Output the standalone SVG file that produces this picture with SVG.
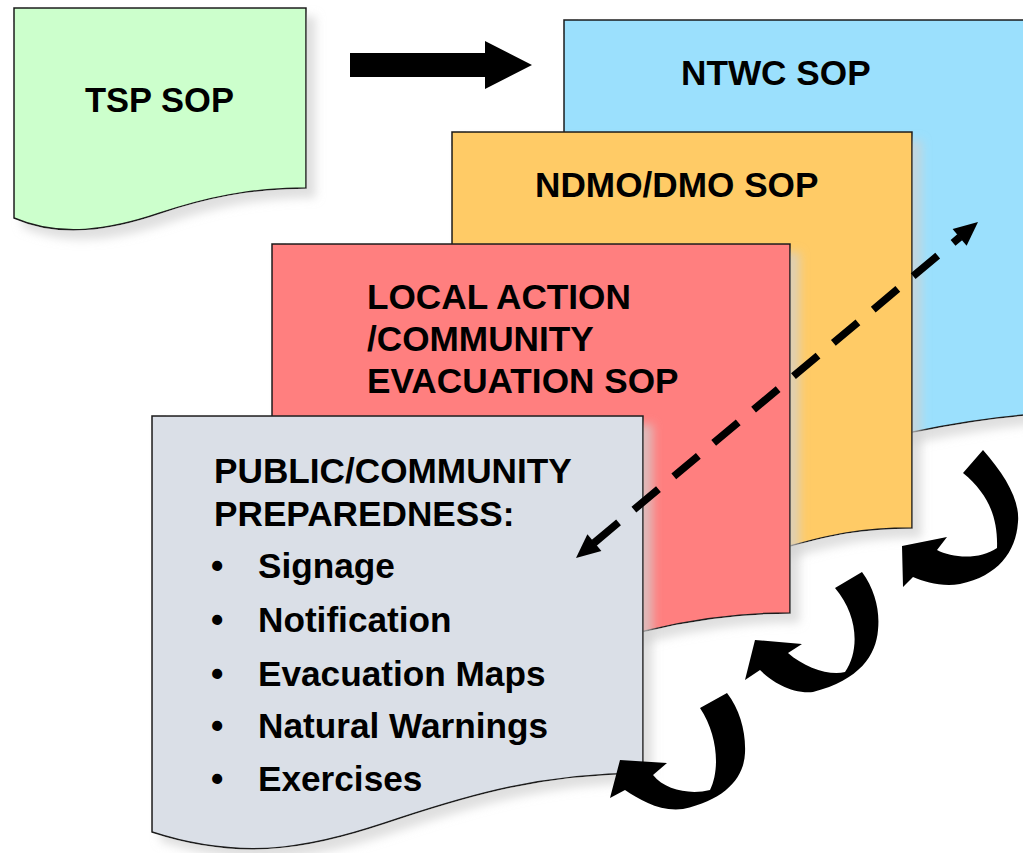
<svg xmlns="http://www.w3.org/2000/svg" width="1023" height="853" viewBox="0 0 1023 853">
<defs>
<style>
.doc{stroke:#1a1a1a;stroke-width:1.5;filter:url(#sh)}
.t{font-family:"Liberation Sans",Arial,sans-serif;font-weight:bold;font-size:35.2px;fill:#000}
.blk{fill:#000}
</style>
<filter id="sh" x="-10%" y="-10%" width="130%" height="130%">
<feDropShadow dx="9" dy="9" stdDeviation="5" flood-color="#d2d2d2" flood-opacity="0.7"/>
</filter>
</defs>
<rect width="1023" height="853" fill="#fff"/>

<g id="ntwc">
<path class="doc" fill="#9BE0FD" d="M564,20 H1090 V412 C1040,412 980,418 913,432 C850,446 700,480 564,460 Z"/>
<text class="t" x="681" y="85">NTWC SOP</text>
</g>

<g id="ndmo">
<path class="doc" fill="#FFCB66" d="M452,132 H912 V528 C860,528 830,535 790,546 C700,570 560,600 452,580 Z"/>
<text class="t" x="535" y="197">NDMO/DMO SOP</text>
</g>

<g id="local">
<path class="doc" fill="#FF7F7F" d="M272,244 H790 V613 C740,613 690,620 645,631 C560,652 400,690 272,660 Z"/>
<text class="t" x="367" y="309">LOCAL ACTION</text>
<text class="t" x="367" y="351">/COMMUNITY</text>
<text class="t" x="367" y="393">EVACUATION SOP</text>
</g>

<g id="public">
<path class="doc" fill="#DADFE7" d="M152,416 H643 V773 C540,774 470,795 400,818 C320,845 250,864 152,832 Z"/>
<text class="t" x="214" y="483">PUBLIC/COMMUNITY</text>
<text class="t" x="214" y="526">PREPAREDNESS:</text>
<text class="t" x="211" y="578">•</text>
<text class="t" x="258" y="578">Signage</text>
<text class="t" x="211" y="632">•</text>
<text class="t" x="258" y="632">Notification</text>
<text class="t" x="211" y="686">•</text>
<text class="t" x="258" y="686">Evacuation Maps</text>
<text class="t" x="211" y="738">•</text>
<text class="t" x="258" y="738">Natural Warnings</text>
<text class="t" x="211" y="791">•</text>
<text class="t" x="258" y="791">Exercises</text>
</g>

<g id="tsp">
<path class="doc" fill="#CCFFCC" d="M14,8 H306 V188 C250,188 205,198 160,213 C110,230 60,238 14,218 Z"/>
<text class="t" x="85" y="112" style="font-size:34.5px">TSP SOP</text>
</g>

<g id="connectors">
<path class="blk" d="M350,53 H485 V41 L532,65 L485,89 V77 H350 Z"/>
<line x1="594" y1="543" x2="960" y2="237" stroke="#000" stroke-width="7.5" stroke-dasharray="32 20"/>
<path class="blk" d="M978,222 L966.6,245.8 L952.6,229 Z"/>
<path class="blk" d="M576,558 L601.4,551 L587.4,534.2 Z"/>
<path class="blk" d="M963,473 L983,450 C1005,475 1020,500 1018,522 C1016,552 998,576 960,584 C942,587 925,582 913,577 L903,587 L902,546 L947,537 L937,550 C952,558 980,560 997,548 C998,520 990,495 963,473 Z"/>
<path class="blk" d="M835,588 L862,572 C875,590 880,610 878,630 C876,655 860,680 813,692 C790,694 770,680 760,670 L745,680 L755,640 L802,644 L788,653 C805,668 830,676 845,672 C860,650 858,615 835,588 Z"/>
<path class="blk" d="M700,708 L727,693 C740,710 746,732 745,753 C744,778 725,800 683,809 C660,812 640,800 625,790 L610,798 L620,760 L667,763 L653,775 C665,790 690,795 710,790 C720,770 718,735 700,708 Z"/>
</g>
</svg>
